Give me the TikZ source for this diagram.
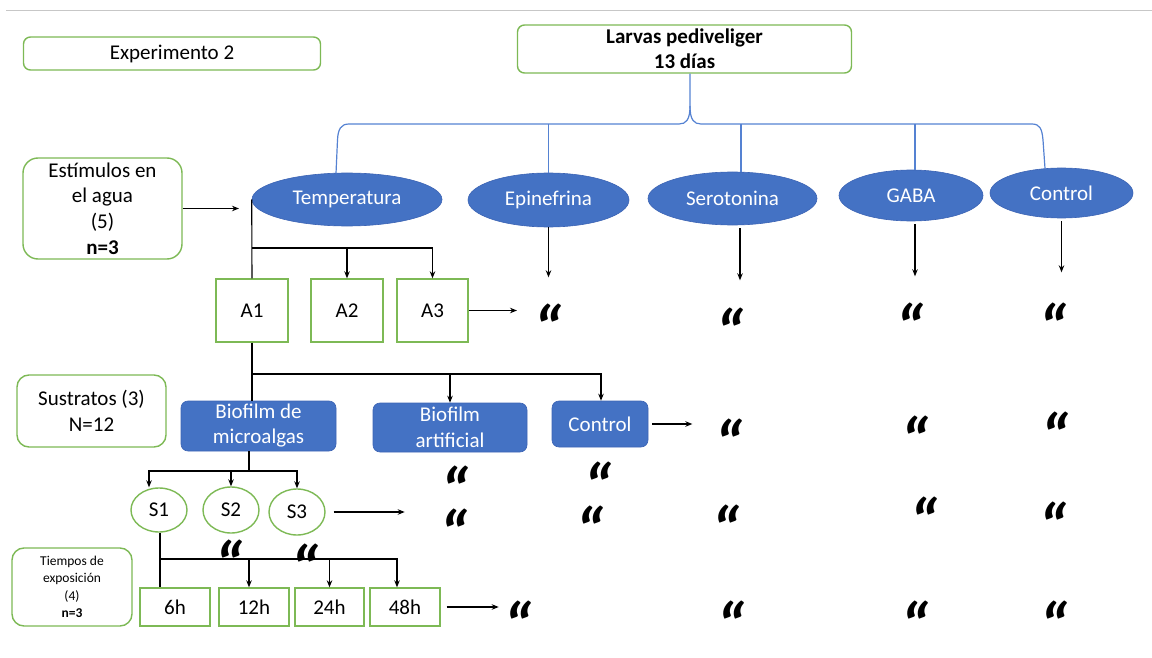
\documentclass[tikz,border=0pt]{standalone}
\usepackage{fontspec}
\setmainfont{Carlito}
\usetikzlibrary{shapes.geometric,arrows.meta}
\definecolor{gbord}{RGB}{125,185,85}
\definecolor{bfill}{HTML}{4472C4}
\definecolor{bdraw}{RGB}{60,100,180}
\definecolor{bline}{RGB}{85,130,210}
\newcommand{\dittomark}{\raisebox{-41pt}[9pt][9pt]{“}}
\begin{document}
\begin{tikzpicture}[x=1pt,y=-1pt,
 every node/.style={font=\fontsize{21}{25.6}\selectfont, inner sep=0pt, align=center},
 gbox/.style={draw=gbord, line width=1.4pt, rounded corners=7pt, fill=white},
 gsq/.style={draw=gbord, line width=1.4pt},
 bell/.style={ellipse, fill=bfill, draw=bdraw, line width=0.6pt, text=white},
 bbox/.style={rounded corners=7pt, fill=bfill, draw=bdraw, line width=0.6pt, text=white},
 gell/.style={ellipse, draw=gbord, line width=1.4pt},
 arr/.style={-{Stealth[length=7pt,width=5.5pt]}, line width=1.1pt},
 ln/.style={line width=1.1pt},
 brc/.style={draw=bline, line width=1.2pt},
 qm/.style={font=\fontsize{66}{66}\selectfont\bfseries\itshape, anchor=center}
]
\useasboundingbox (0,0) rectangle (1152,658);
\draw[black!22, line width=1pt] (6,11) -- (1152,11);

% left label boxes
\node[gbox, minimum width=297pt, minimum height=33pt] (exp) at (172,53.5) {Experimento 2};
\node[gbox, rounded corners=15pt, minimum width=159pt, minimum height=101pt] (est) at (102.5,208.5)
  {Estímulos en\\el agua\\(5)\\\textbf{n=3}};
\node[gbox, rounded corners=12pt, minimum width=149pt, minimum height=72pt] (sus) at (91.5,411)
  {Sustratos (3)\\N=12};
\node[gbox, rounded corners=12pt, minimum width=120pt, minimum height=78pt, font=\fontsize{13.5}{17.5}\selectfont] (tie) at (72,587)
  {Tiempos de\\exposición\\(4)\\\textbf{n=3}};

% top box
\node[gbox, minimum width=334pt, minimum height=48pt, font=\fontsize{21}{25}\selectfont\bfseries] (larv) at (684.5,49)
  {Larvas pediveliger\\13 días};

% ellipses
\node[bell, minimum width=190pt, minimum height=53pt] (temp) at (347,199.5) {Temperatura};
\node[bell, minimum width=161pt, minimum height=54pt] (epi) at (548.5,200) {Epinefrina};
\node[bell, minimum width=169pt, minimum height=53pt] (sero) at (732.5,198.5) {Serotonina};
\node[bell, minimum width=144pt, minimum height=51pt] (gaba) at (911,195.5) {GABA};
\node[bell, minimum width=143pt, minimum height=50pt] (ctra) at (1061.5,193) {Control};

% A boxes
\node[gsq, minimum width=72pt, minimum height=63pt] (A1) at (252,310.5) {A1};
\node[gsq, minimum width=72pt, minimum height=63pt] (A2) at (347,310.5) {A2};
\node[gsq, minimum width=71pt, minimum height=63pt] (A3) at (432.5,310.5) {A3};

% substrate boxes
\node[bbox, minimum width=155pt, minimum height=50pt, font=\fontsize{21}{25}\selectfont] (bm) at (258.5,426) {Biofilm de\\microalgas};
\node[bbox, minimum width=154pt, minimum height=49pt, font=\fontsize{21}{26}\selectfont] (ba) at (450,427.5) {Biofilm\\artificial};
\node[bbox, minimum width=96pt, minimum height=46pt] (ctb) at (600,424) {Control};

% S ellipses
\node[gell, minimum width=56pt, minimum height=44pt] (s1) at (159,510) {S1};
\node[gell, minimum width=56pt, minimum height=46pt] (s2) at (231,510) {S2};
\node[gell, minimum width=56pt, minimum height=46pt] (s3) at (297,512) {S3};

% time boxes
\node[gsq, minimum width=70pt, minimum height=38pt] (h6) at (175,607) {6h};
\node[gsq, minimum width=70pt, minimum height=38pt] (h12) at (254,607) {12h};
\node[gsq, minimum width=69pt, minimum height=38pt] (h24) at (329.5,607) {24h};
\node[gsq, minimum width=70pt, minimum height=38pt] (h48) at (405,607) {48h};

% blue brace
\coordinate (br) at (690,106);
\coordinate (bl) at (336,173.5);
\coordinate (brr) at (1045,168.5);
\draw[brc] (larv.south -| br) -- (br) .. controls (690,120) and (686,124) .. (679,124) -- (349,124)
  .. controls (341,124) and (338,129) .. (337.5,140) -- (bl);
\draw[brc] (br) .. controls (690,120) and (694,124) .. (701,124) -- (1032,124)
  .. controls (1040,124) and (1042,129) .. (1043,140) -- (brr);
\coordinate (b1) at (548.5,124);
\coordinate (b2) at (741,124);
\coordinate (b3) at (915,124);
\draw[brc] (b1) -- (epi.north);
\draw[brc] (b2) -- (b2 |- sero.north);
\draw[brc] (b3) -- (b3 |- gaba.north);

% estimulos arrow
\coordinate (estE) at (239,208.5);
\draw[arr] (est.east) -- (estE);

% temperatura -> A
\draw[ln] (temp.west) -- (A1.north);
\coordinate (tj) at (252,248);
\draw[arr] (tj) -| (A3.north);
\draw[arr] (tj -| A2.north) -- (A2.north);
\coordinate (a3E) at (517,310.5);
\draw[arr] (A3.east) -- (a3E);

% ellipse down arrows
\draw[arr] (epi.south) -- ++(0,50);
\draw[arr] ([xshift=7.5pt,yshift=-3pt]sero.south) -- ++(0,52);
\draw[arr] ([xshift=4pt,yshift=-3pt]gaba.south) -- ++(0,52);
\draw[arr] ([yshift=-3pt]ctra.south) -- ++(0,51);

% A1 -> substrates
\draw[ln] (A1.south) -- (A1.south |- bm.north);
\coordinate (aj) at (252,374);
\draw[arr] (aj) -| ([xshift=1pt]ctb.north);
\draw[arr] (aj -| ba.north) -- (ba.north);
\draw[arr] ([xshift=4pt]ctb.east) -- ++(40,0);

% biofilm microalgas -> S
\coordinate (bj) at (249,471);
\coordinate (bjl) at (149,471);
\draw[ln] (bm.south -| bj) -- (bj);
\draw[arr] (bj) -| (bjl |- s1.north);
\draw[arr] (bj) -| (s3.north);
\draw[arr] (bj -| s2.north) -- (s2.north);
\draw[arr] ([xshift=8pt]s3.east) -- ++(71,0);

% S1 -> times
\draw[ln] ([xshift=1pt]s1.south) -- ([xshift=1pt]s1.south |- h6.north);
\coordinate (sj) at (160,559);
\coordinate (t12) at ([xshift=-5pt]h12.north);
\coordinate (t24) at (h24.north);
\coordinate (t48) at ([xshift=-8pt]h48.north);
\draw[arr] (sj) -| (t48);
\draw[arr] (sj -| t12) -- (t12);
\draw[arr] (sj -| t24) -- (t24);
\draw[arr] ([xshift=6pt]h48.east) -- ++(52,0);

% ditto marks
\foreach \n/\x/\y in {q1/548/311, q2/730/315, q3/910/310, q4/1053/310,
  q5/729/426, q6/915/423, q7/1055/419, q8/455/473, q9/598/469,
  q10/454/516, q11/590/513, q12/726/512, q13/924/504, q14/1053/509,
  q15/229/547, q16/305/551, q17/518/608, q18/731/608, q19/915/608, q20/1054/608}
  \node[qm] (\n) at (\x,\y) {\dittomark};
\end{tikzpicture}
\end{document}
